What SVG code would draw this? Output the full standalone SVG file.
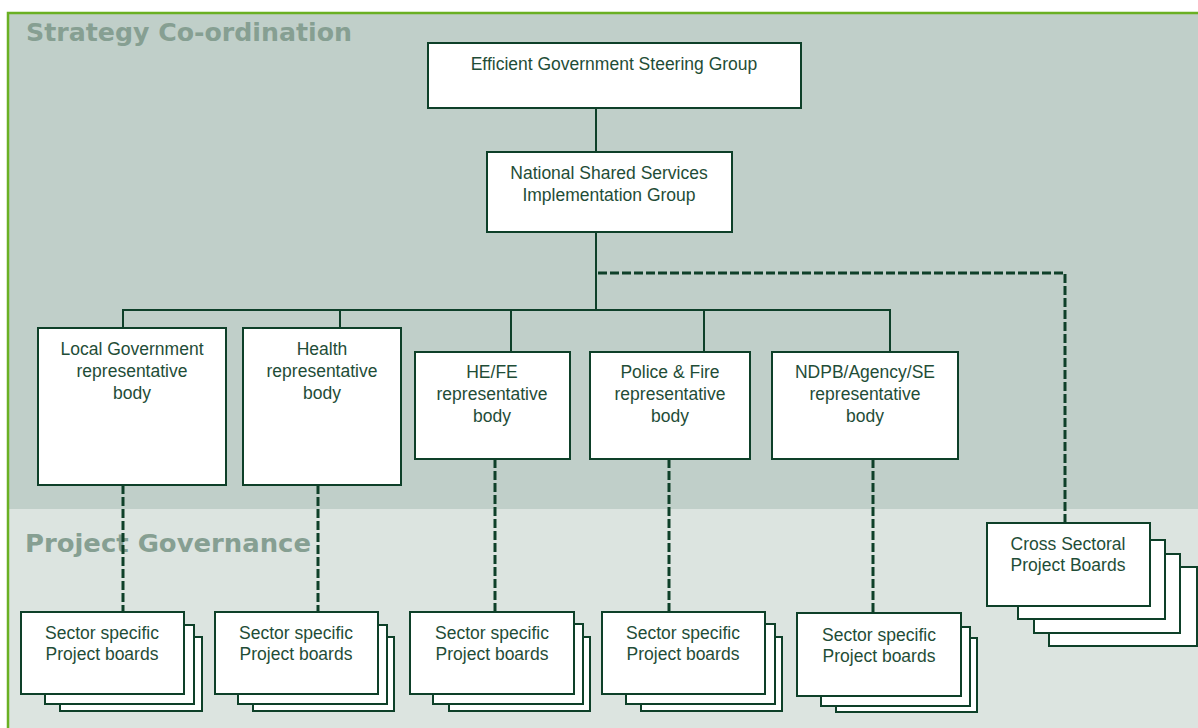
<svg xmlns="http://www.w3.org/2000/svg" width="1198" height="728" viewBox="0 0 1198 728">
<defs>
<style>
.box{fill:#ffffff;stroke:#0e4029;stroke-width:2}
.t{font-family:"Liberation Sans",Arial,sans-serif;font-size:17.5px;fill:#1f4d37;text-anchor:middle}
.band{font-family:"DejaVu Sans","Liberation Sans",sans-serif;font-weight:bold;font-size:24px;fill:#869f92}
.solid{fill:none;stroke:#0e4029;stroke-width:2}
.dash{fill:none;stroke:#0e4029;stroke-width:3;stroke-dasharray:9 3}
</style>
</defs>
<rect x="0" y="0" width="1198" height="728" fill="#ffffff"/>
<rect x="7" y="12" width="1191" height="497" fill="#c0cfc9"/>
<rect x="7" y="509" width="1191" height="219" fill="#dce4e0"/>
<path d="M8 728 V13 H1198" fill="none" stroke="#6ab023" stroke-width="2.5"/>
<text class="band" x="26" y="41" textLength="326" lengthAdjust="spacingAndGlyphs">Strategy Co-ordination</text>
<text class="band" x="25" y="552" textLength="286" lengthAdjust="spacingAndGlyphs">Project Governance</text>

<g id="connectors">
<path class="solid" d="M596 108 V152"/>
<path class="solid" d="M596 232 V310"/>
<path class="solid" d="M123 328 V310 H890 V352"/>
<path class="solid" d="M340 310 V328"/>
<path class="solid" d="M511 310 V352"/>
<path class="solid" d="M704 310 V352"/>
<path class="dash" d="M598 273 H1065 V523"/>
<path class="dash" d="M123 485 V612"/>
<path class="dash" d="M318 485 V612"/>
<path class="dash" d="M495 459 V612"/>
<path class="dash" d="M669 459 V612"/>
<path class="dash" d="M873 459 V613"/>
</g>

<g id="steering">
<rect class="box" x="428" y="43" width="373" height="65"/>
<text class="t" x="614" y="70">Efficient Government Steering Group</text>
</g>
<g id="nssig">
<rect class="box" x="487" y="152" width="245" height="80"/>
<text class="t" x="609" y="179">National Shared Services</text>
<text class="t" x="609" y="201">Implementation Group</text>
</g>
<g id="local-gov">
<rect class="box" x="38" y="328" width="188" height="157"/>
<text class="t" x="132" y="355">Local Government</text>
<text class="t" x="132" y="377">representative</text>
<text class="t" x="132" y="399">body</text>
</g>
<g id="health">
<rect class="box" x="243" y="328" width="158" height="157"/>
<text class="t" x="322" y="355">Health</text>
<text class="t" x="322" y="377">representative</text>
<text class="t" x="322" y="399">body</text>
</g>
<g id="hefe">
<rect class="box" x="415" y="352" width="155" height="107"/>
<text class="t" x="492" y="378">HE/FE</text>
<text class="t" x="492" y="400">representative</text>
<text class="t" x="492" y="422">body</text>
</g>
<g id="police-fire">
<rect class="box" x="590" y="352" width="160" height="107"/>
<text class="t" x="670" y="378">Police &amp; Fire</text>
<text class="t" x="670" y="400">representative</text>
<text class="t" x="670" y="422">body</text>
</g>
<g id="ndpb">
<rect class="box" x="772" y="352" width="186" height="107"/>
<text class="t" x="865" y="378">NDPB/Agency/SE</text>
<text class="t" x="865" y="400">representative</text>
<text class="t" x="865" y="422">body</text>
</g>

<g id="boards-1">
<rect class="box" x="60" y="637" width="142" height="74"/>
<rect class="box" x="45" y="625" width="149" height="79"/>
<rect class="box" x="21" y="612" width="163" height="82"/>
<text class="t" x="102" y="639">Sector specific</text>
<text class="t" x="102" y="660">Project boards</text>
</g>
<g id="boards-2">
<rect class="box" x="253" y="637" width="141" height="74"/>
<rect class="box" x="238" y="625" width="149" height="79"/>
<rect class="box" x="215" y="612" width="163" height="82"/>
<text class="t" x="296" y="639">Sector specific</text>
<text class="t" x="296" y="660">Project boards</text>
</g>
<g id="boards-3">
<rect class="box" x="449" y="637" width="141" height="74"/>
<rect class="box" x="433" y="624" width="150" height="80"/>
<rect class="box" x="410" y="612" width="164" height="82"/>
<text class="t" x="492" y="639">Sector specific</text>
<text class="t" x="492" y="660">Project boards</text>
</g>
<g id="boards-4">
<rect class="box" x="641" y="637" width="141" height="74"/>
<rect class="box" x="626" y="624" width="149" height="80"/>
<rect class="box" x="602" y="612" width="163" height="82"/>
<text class="t" x="683" y="639">Sector specific</text>
<text class="t" x="683" y="660">Project boards</text>
</g>
<g id="boards-5">
<rect class="box" x="836" y="638" width="141" height="74"/>
<rect class="box" x="821" y="627" width="149" height="79"/>
<rect class="box" x="797" y="613" width="164" height="83"/>
<text class="t" x="879" y="641">Sector specific</text>
<text class="t" x="879" y="662">Project boards</text>
</g>
<g id="cross-sectoral">
<rect class="box" x="1049" y="567" width="148" height="79"/>
<rect class="box" x="1034" y="554" width="146" height="79"/>
<rect class="box" x="1018" y="540" width="147" height="79"/>
<rect class="box" x="987" y="523" width="163" height="83"/>
<text class="t" x="1068" y="550">Cross Sectoral</text>
<text class="t" x="1068" y="571">Project Boards</text>
</g>
</svg>
